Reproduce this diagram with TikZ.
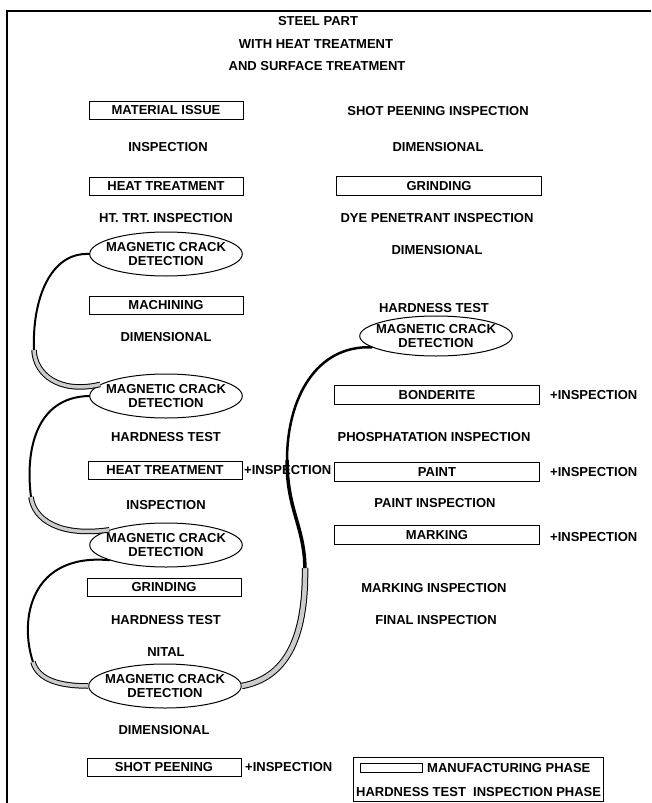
\documentclass[tikz,border=0pt]{standalone}
\usepackage{fontspec}
\setmainfont{Liberation Sans}
\usetikzlibrary{shapes.geometric}
\begin{document}
\begin{tikzpicture}[x=1pt,y=-1pt,
  every node/.style={font=\fontsize{13}{14}\selectfont\bfseries, inner sep=0pt},
  lbox/.style={draw, line width=1pt, minimum width=154pt, minimum height=18pt},
  rbox/.style={draw, line width=1pt, minimum width=205pt, minimum height=19pt},
  mcd/.style={draw, ellipse, line width=1pt, inner xsep=-6pt, inner ysep=1pt, minimum width=152pt, minimum height=44pt, align=center},
  arcline/.style={line width=2pt, line cap=round},
  shaded/.style={line width=1pt, double=gray!40, double distance=3.5pt},
  wideshaded/.style={line width=1pt, double=gray!40, double distance=4.5pt},
]
\useasboundingbox (0,0) rectangle (651,803);
\draw[line width=1.5pt] (651,11) -- (7,11) -- (7,803);

% header
\node (t1) at (318,21) {STEEL PART};
\node (t2) at (316,44) {WITH HEAT TREATMENT};
\node (t3) at (317,66) {AND SURFACE TREATMENT};

% left column
\node[lbox] (mi) at (166,110) {MATERIAL ISSUE};
\node (l1) at (168,147) {INSPECTION};
\node[lbox] (ht1) at (166,186) {HEAT TREATMENT};
\node (l2) at (166,218) {HT. TRT. INSPECTION};
\node[mcd] (e1) at (166,254) {MAGNETIC CRACK\\DETECTION};
\node[lbox] (mach) at (166,305) {MACHINING};
\node (l3) at (166,337) {DIMENSIONAL};
\node[mcd] (e2) at (166,396) {MAGNETIC CRACK\\DETECTION};
\node (l4) at (166,437) {HARDNESS TEST};
\node[lbox] (ht2) at (165,470) {HEAT TREATMENT};
\node[anchor=west] (p1) at (244,470) {+INSPECTION};
\node (l5) at (166,505) {INSPECTION};
\node[mcd] (e3) at (166,545) {MAGNETIC CRACK\\DETECTION};
\node[lbox] (gr1) at (164,587) {GRINDING};
\node (l6) at (166,620) {HARDNESS TEST};
\node (l7) at (166,652) {NITAL};
\node[mcd] (e4) at (165,686) {MAGNETIC CRACK\\DETECTION};
\node (l8) at (164,730) {DIMENSIONAL};
\node[lbox] (sp) at (164,767) {SHOT PEENING};
\node[anchor=west] (p2) at (245,767) {+INSPECTION};

% right column
\node (r1) at (438,111) {SHOT PEENING INSPECTION};
\node (r2) at (438,147) {DIMENSIONAL};
\node[rbox] (gr2) at (439,186) {GRINDING};
\node (r3) at (437,218) {DYE PENETRANT INSPECTION};
\node (r4) at (437,250) {DIMENSIONAL};
\node (r5) at (434,308) {HARDNESS TEST};
\node[mcd, minimum height=40pt] (e5) at (436,336) {MAGNETIC CRACK\\DETECTION};
\node[rbox] (bond) at (437,395) {BONDERITE};
\node[anchor=west] (p3) at (550,395) {+INSPECTION};
\node (r6) at (434,437) {PHOSPHATATION INSPECTION};
\node[rbox] (paint) at (437,472) {PAINT};
\node[anchor=west] (p4) at (550,472) {+INSPECTION};
\node (r7) at (435,503) {PAINT INSPECTION};
\node[rbox] (mark) at (437,535) {MARKING};
\node[anchor=west] (p5) at (550,537) {+INSPECTION};
\node (r8) at (434,588) {MARKING INSPECTION};
\node (r9) at (436,620) {FINAL INSPECTION};

% legend
\node[draw, line width=1pt, minimum width=250pt, minimum height=44pt] (leg) at (478,779) {};
\node[draw, line width=1pt, minimum width=62pt, minimum height=9pt] (legbox) at (391,768) {};
\node[anchor=west] (legm) at (427,768) {MANUFACTURING PHASE};
\node[anchor=west] (legi) at (356,792) {HARDNESS TEST\ \ INSPECTION PHASE};

% curve 1
\coordinate (m1) at (34,350);
\draw[arcline] (e1.west) .. controls (50,252) and (32,300) .. (m1);
\draw[shaded] (m1) .. controls (35,375) and (60,394) .. (e2.170);
% curve 2
\coordinate (m2) at (31,497);
\draw[arcline] (e2.west) .. controls (36,397) and (25,450) .. (m2);
\draw[shaded] (m2) .. controls (34,520) and (60,537) .. (e3.165);
% curve 3
\coordinate (m3) at (33,662);
\draw[arcline] (e3.195) .. controls (30,553) and (19,620) .. (m3);
\draw[shaded] (m3) .. controls (38,680) and (60,686) .. (e4.west);
% right curve
\coordinate (mr) at (305,568);
\coordinate (mr2) at (287,460);
\draw[wideshaded] (e4.east) .. controls (285,678) and (306,640) .. (mr);
\draw[line width=3.5pt] (mr) .. controls (304,525) and (287,510) .. (mr2);
\draw[line width=2.5pt, line cap=round] (mr2) .. controls (287,400) and (315,345) .. (e5.190);
\end{tikzpicture}
\end{document}
